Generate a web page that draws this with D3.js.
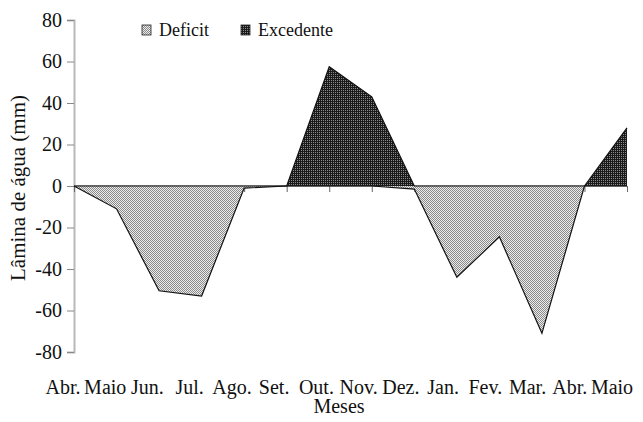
<!DOCTYPE html>
<html><head><meta charset="utf-8">
<script src="https://cdn.jsdelivr.net/npm/d3@7"></script>
<style>body{margin:0;background:#fff}svg{display:block}text{font-family:"Liberation Serif","Times New Roman",serif;fill:#111}</style>
</head><body>
<svg id="c" width="643" height="422"></svg>
<script>
const months = ["Abr.","Maio","Jun.","Jul.","Ago.","Set.","Out.","Nov.","Dez.","Jan.","Fev.","Mar.","Abr.","Maio"];
const deficit = [0,-11,-50.5,-53,-1,0,0,0,-1.5,-44,-24.5,-71,0,0];
const excedente = [0,0,0,0,0,0,57.5,43,0,0,0,0,0,28];
const yTicks = [-80,-60,-40,-20,0,20,40,60,80];
const seriesNames = ["Deficit","Excedente"];

const svg = d3.select("#c");
const idx = d3.range(months.length);
const x = d3.scalePoint().domain(idx).range([74, 627]);
const xl = d3.scalePoint().domain(idx).range([63, 612]);
const y = d3.scaleLinear().domain([-80, 80]).range([352, 20]);

const defs = svg.append("defs");
const p1 = defs.append("pattern").attr("id","pd").attr("patternUnits","userSpaceOnUse").attr("width",2).attr("height",2);
p1.append("rect").attr("width",2).attr("height",2).attr("fill","#ececec");
p1.append("rect").attr("width",1).attr("height",1).attr("fill","#8a8a8a");
p1.append("rect").attr("x",1).attr("y",1).attr("width",1).attr("height",1).attr("fill","#8a8a8a");
const p2 = defs.append("pattern").attr("id","pe").attr("patternUnits","userSpaceOnUse").attr("width",2).attr("height",2);
p2.append("rect").attr("width",2).attr("height",2).attr("fill","#1a1a1a");
p2.append("rect").attr("x",1).attr("y",0).attr("width",1).attr("height",1).attr("fill","#8c8c8c");

// y axis
const ya = svg.append("g").attr("transform","translate(74,0)")
  .call(d3.axisLeft(y).tickValues(yTicks).tickSize(7).tickPadding(5).tickFormat(d=>String(d)));
ya.select(".domain").attr("stroke","#b8b8b8").attr("stroke-width",2);
ya.selectAll(".tick line").attr("stroke","#888");
ya.selectAll(".tick text").style("font-size","20px").attr("fill","#111");

// x baseline
const xa = svg.append("g").attr("transform",`translate(0,${y(0)})`)
  .call(d3.axisBottom(x).tickSize(6).tickFormat(""));
xa.select(".domain").attr("stroke","#b8b8b8").attr("stroke-width",2).attr("d",`M${x(0)},0H${x(13)}`);
xa.selectAll(".tick line").attr("stroke","#666");

const area = d3.area().x((d,i)=>x(i)).y0(y(0)).y1(d=>y(d));
const line = d3.line().x((d,i)=>x(i)).y(d=>y(d));

svg.append("path").datum(deficit).attr("d",area).attr("fill","url(#pd)");
svg.append("path").datum(deficit).attr("d",line).attr("fill","none").attr("stroke","#111").attr("stroke-width",1.2);
svg.append("path").datum(excedente).attr("d",area).attr("fill","url(#pe)");
svg.append("path").datum(excedente).attr("d",line).attr("fill","none").attr("stroke","#111").attr("stroke-width",1.2);

// x labels
svg.append("g").selectAll("text").data(idx).join("text")
  .attr("x", i=>xl(i)).attr("y",394).attr("text-anchor","middle")
  .style("font-size","20px").text(i=>months[i]);
svg.append("text").attr("x",339).attr("y",413).attr("text-anchor","middle").style("font-size","20px").text("Meses");
svg.append("text").attr("transform","translate(25,188) rotate(-90)").attr("text-anchor","middle")
  .style("font-size","21px").text("Lâmina de água (mm)");

// legend
const leg = [{x:142, fill:"url(#pd)", t:seriesNames[0]},{x:241, fill:"url(#pe)", t:seriesNames[1]}];
const lg = svg.append("g").selectAll("g").data(leg).join("g");
lg.append("rect").attr("x",d=>d.x).attr("y",25).attr("width",9).attr("height",10).attr("fill",d=>d.fill).attr("stroke","#222").attr("stroke-width",0.8);
lg.append("text").attr("x",d=>d.x+17).attr("y",36).style("font-size","18px").text(d=>d.t);
</script>
</body></html>
